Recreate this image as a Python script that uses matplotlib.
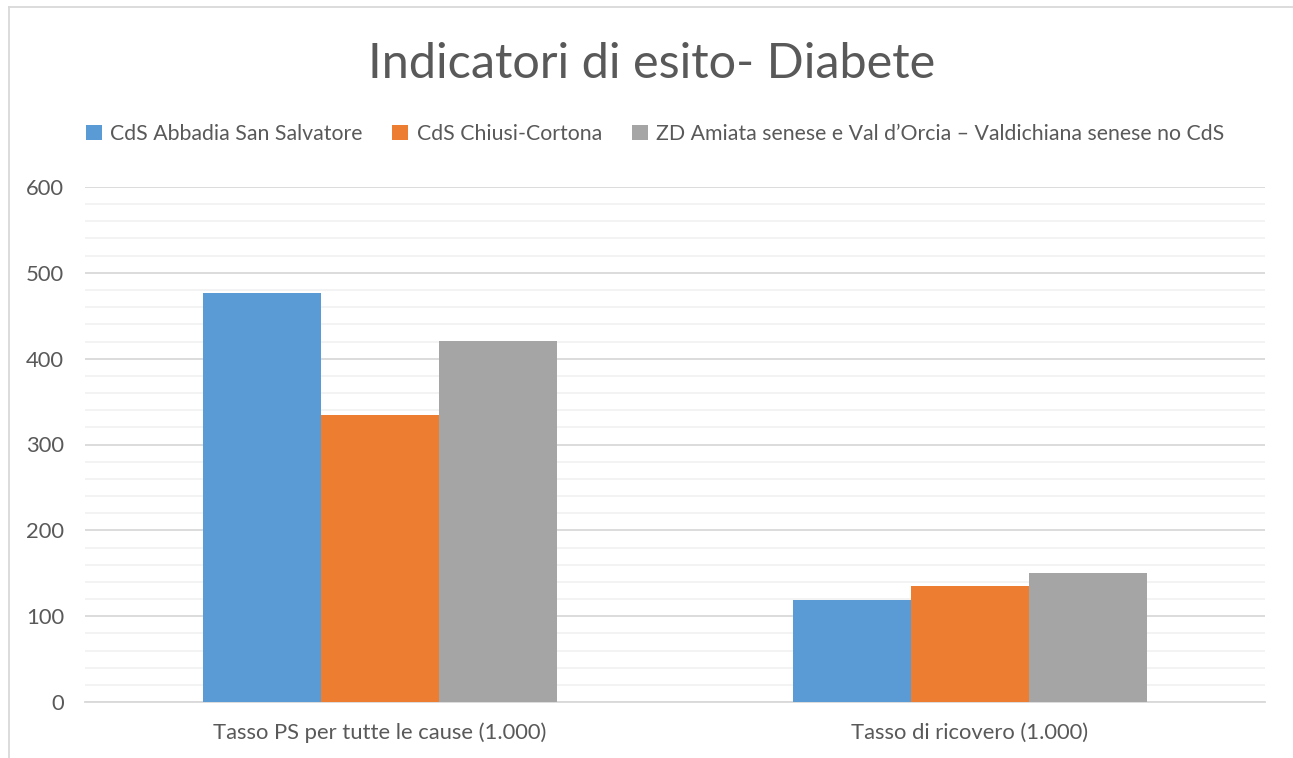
import matplotlib
matplotlib.use('Agg')
import matplotlib.pyplot as plt
from matplotlib.lines import Line2D
from matplotlib.ticker import MultipleLocator
import numpy as np

categories = ['Tasso PS per tutte le cause (1.000)', 'Tasso di ricovero (1.000)']
series_names = ['CdS Abbadia San Salvatore', 'CdS Chiusi-Cortona',
                'ZD Amiata senese e Val d\u2019Orcia \u2013 Valdichiana senese no CdS']
abbadia = [477, 119]
chiusi = [334, 135]
zd = [421, 150]
colors = ['#5b9bd5', '#ed7d31', '#a5a5a5']

plt.rcParams['font.family'] = ['Lato', 'DejaVu Sans']
txt = '#595959'

W, H = 1293, 758
fig = plt.figure(figsize=(W / 100, H / 100), dpi=100)
ax = fig.add_axes([85 / W, 1 - 702 / H, (1265 - 85) / W, (702 - 187) / H])

x = np.arange(len(categories))
bw = 0.2
for i, (vals, name) in enumerate(zip([abbadia, chiusi, zd], series_names)):
    ax.bar(x + (i - 1) * bw, vals, bw, color=colors[i], label=name, zorder=3)

ax.set_xlim(-0.5, len(categories) - 0.5)
ax.set_ylim(0, 600)
ax.yaxis.set_major_locator(MultipleLocator(100))
ax.yaxis.set_minor_locator(MultipleLocator(20))
ax.grid(which='major', axis='y', color='#d9d9d9', lw=1.3, zorder=0)
ax.grid(which='minor', axis='y', color='#f2f2f2', lw=1.3, zorder=0)
for s in ['top', 'right', 'left']:
    ax.spines[s].set_visible(False)
ax.spines['bottom'].set_color('#d9d9d9')
ax.spines['bottom'].set_linewidth(1.3)
ax.set_xticks(x)
ax.set_xticklabels(categories)
ax.tick_params(axis='both', which='both', length=0, colors=txt, labelsize=15.8)
ax.tick_params(axis='y', pad=15)
ax.tick_params(axis='x', pad=15)

fig.text(652 / W, 1 - 64 / H, 'Indicatori di esito- Diabete', ha='center', va='center',
         fontsize=35, color=txt, fontweight='normal')
fig.legend(loc='center', bbox_to_anchor=(655 / W, 1 - 134 / H), ncol=3, frameon=False,
           fontsize=15.3, labelcolor=txt, handlelength=0.75, handleheight=0.75,
           handletextpad=0.4, columnspacing=1.4)

fig.add_artist(Line2D([8.5 / W, 8.5 / W], [0, 1 - 6.5 / H], color='#d9d9d9', lw=1.3))
fig.add_artist(Line2D([8.5 / W, 1], [1 - 6.5 / H, 1 - 6.5 / H], color='#d9d9d9', lw=1.3))

fig.savefig('out.png', dpi=100)
